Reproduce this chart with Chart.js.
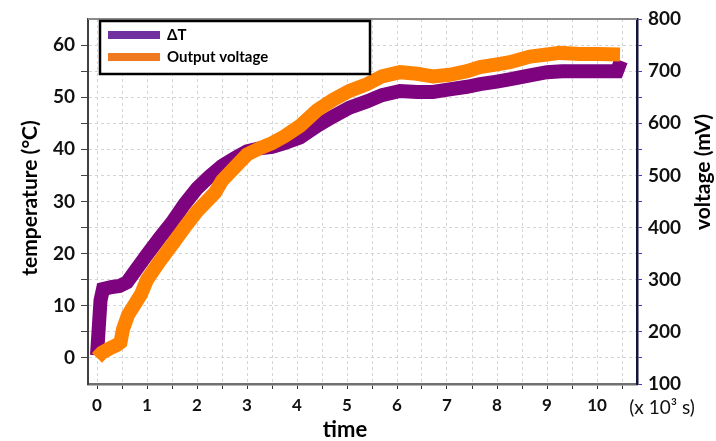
<!DOCTYPE html>
<html>
<head>
<meta charset="utf-8">
<script src="https://cdn.jsdelivr.net/npm/chart.js@4.4.0/dist/chart.umd.min.js"></script>
<style>
	html, body { margin: 0; padding: 0; background: #fff; }
</style>
</head>
<body>
<canvas id="myChart" width="716" height="441"></canvas>
<script>
// time axis is in 10^3 s
var dtTime = [0, 0.03, 0.07, 0.12, 0.3, 0.45, 0.6, 0.75, 0.9, 1.0, 1.25, 1.5, 1.75, 2.0, 2.25, 2.5, 2.75, 3.0, 3.25, 3.5, 3.75,
	4.06, 4.4, 4.72, 5.05, 5.4, 5.7, 6.06, 6.4, 6.72, 7.05, 7.4, 7.66, 8.0, 8.3, 8.66, 9.0, 9.3, 9.66, 10.0, 10.4, 10.48];
// temperature difference, °C
var dtValues = [0.5, 5, 11, 13.2, 13.6, 13.8, 14.5, 16.5, 18.5, 19.8, 23, 26, 29.5, 32.5, 34.8, 36.8, 38.3, 39.6, 40.2, 40.5, 41.2,
	42.3, 44.5, 46.3, 48, 49.2, 50.4, 51.2, 51, 51, 51.5, 52, 52.5, 53, 53.5, 54.2, 54.8, 55, 55, 55, 55, 57];

var voltTime = [0, 0.1, 0.25, 0.4, 0.47, 0.52, 0.62, 0.75, 0.88, 1.0, 1.25, 1.5, 1.75, 2.0, 2.36, 2.5, 2.75, 3.0, 3.25, 3.5, 3.75,
	4.06, 4.4, 4.72, 5.05, 5.4, 5.7, 6.06, 6.4, 6.72, 7.05, 7.4, 7.66, 8.0, 8.26, 8.66, 9.0, 9.26, 9.66, 10.0, 10.46];
// output voltage, mV
var voltValues = [150, 160, 168, 175, 180, 205, 232, 252, 272, 300, 335, 367, 400, 431, 467, 490, 515, 540, 552, 562, 575,
	595, 625, 645, 662, 675, 690, 698, 695, 690, 693, 700, 708, 713, 717, 728, 732, 735, 733, 733, 732];

var xTicks = [0, 0.5, 1, 1.5, 2, 2.5, 3, 3.5, 4, 4.5, 5, 5.5, 6, 6.5, 7, 7.5, 8, 8.5, 9, 9.5, 10, 10.5];
var tempTicks = [0, 5, 10, 15, 20, 25, 30, 35, 40, 45, 50, 55, 60];
var voltTicks = [100, 150, 200, 250, 300, 350, 400, 450, 500, 550, 600, 650, 700, 750, 800];

var seriesNames = ['ΔT', 'Output voltage'];
var lineColors = ['#7d037f', '#ff8200'];
var legendColors = ['#7030a0', '#f07a22'];

function toPoints(xs, ys) {
	var pts = [];
	for (let i = 0; i < xs.length; i++) {
		pts.push({x: xs[i], y: ys[i]});
	}
	return pts;
}

function setTicks(list) {
	return function(scale) {
		scale.ticks = list.map(v => ({value: v}));
	};
}

// legend box, frame top line and axis titles
var decor = {
	id: 'decor',
	afterDraw: function(chart) {
		var ctx = chart.ctx;
		var a = chart.chartArea;
		ctx.save();

		ctx.strokeStyle = '#8a8a8a';
		ctx.lineWidth = 2;
		ctx.beginPath();
		ctx.moveTo(a.left, a.top);
		ctx.lineTo(a.right, a.top);
		ctx.stroke();

		var bx = a.left + 12, by = a.top + 2, bw = 270, bh = 53;
		ctx.fillStyle = '#fff';
		ctx.fillRect(bx, by, bw, bh);
		ctx.strokeStyle = '#000';
		ctx.lineWidth = 2.5;
		ctx.strokeRect(bx, by, bw, bh);
		ctx.font = 'bold 15px Lato';
		ctx.textAlign = 'left';
		ctx.textBaseline = 'middle';
		chart.data.datasets.forEach(function(ds, i) {
			var y = by + 14 + i * 22;
			ctx.strokeStyle = legendColors[i];
			ctx.lineWidth = 8;
			ctx.beginPath();
			ctx.moveTo(bx + 8, y);
			ctx.lineTo(bx + 60, y);
			ctx.stroke();
			ctx.fillStyle = '#000';
			ctx.fillText(ds.label, bx + 67, y);
		});

		ctx.fillStyle = '#000';
		ctx.textAlign = 'center';
		ctx.font = 'bold 21px Lato';
		ctx.save();
		ctx.translate(30, 198);
		ctx.rotate(-Math.PI / 2);
		ctx.fillText('temperature (°C)', 0, 0);
		ctx.restore();
		ctx.save();
		ctx.translate(703, 172);
		ctx.rotate(-Math.PI / 2);
		ctx.fillText('voltage (mV)', 0, 0);
		ctx.restore();
		ctx.font = 'bold 22px Lato';
		ctx.fillText('time', 345, 430);

		ctx.font = '19px Lato';
		ctx.fillStyle = '#111';
		ctx.fillText('(x 10³ s)', 662, 408);
		ctx.restore();
	}
};

var ctx = document.getElementById('myChart');
var myChart = new Chart(ctx, {
	type: 'line',
	data: {
		datasets: [{
			label: seriesNames[0],
			data: toPoints(dtTime, dtValues),
			yAxisID: 'yTemp',
			borderColor: lineColors[0],
			borderWidth: 14,
			pointRadius: 0,
			order: 1
		}, {
			label: seriesNames[1],
			data: toPoints(voltTime, voltValues),
			yAxisID: 'yVolt',
			borderColor: lineColors[1],
			borderWidth: 14,
			pointRadius: 0,
			order: 0
		}]
	},
	options: {
		responsive: false,
		animation: false,
		events: [],
		layout: { padding: { top: 19, left: 0, right: 0, bottom: 0 } },
		plugins: {
			legend: { display: false },
			tooltip: { enabled: false }
		},
		scales: {
			x: {
				type: 'linear',
				min: -0.18,
				max: 10.8,
				afterBuildTicks: setTicks(xTicks),
				afterFit: function(s) { s.height = 57; },
				grid: { color: '#d4d4d4', lineWidth: 1, tickColor: '#333', tickLength: 5 },
				border: { color: '#707070', width: 2.5, dash: [3, 3] },
				ticks: {
					color: '#111',
					font: { family: 'Lato', size: 17, weight: 'bold' },
					padding: 6,
					maxRotation: 0,
					autoSkip: false,
					callback: function(v) { return Number.isInteger(v) ? String(v) : ''; }
				}
			},
			yTemp: {
				type: 'linear',
				position: 'left',
				min: -5,
				max: 65,
				afterBuildTicks: setTicks(tempTicks),
				afterFit: function(s) { s.width = 88; },
				grid: { color: '#d4d4d4', lineWidth: 1, tickColor: '#444', tickLength: 7 },
				border: { color: '#404040', width: 2, dash: [3, 3] },
				ticks: {
					color: '#111',
					font: { family: 'Lato', size: 19, weight: 'bold' },
					padding: 6,
					autoSkip: false,
					callback: function(v) { return v % 10 === 0 ? String(v) : ''; }
				}
			},
			yVolt: {
				type: 'linear',
				position: 'right',
				min: 100,
				max: 800,
				afterBuildTicks: setTicks(voltTicks),
				afterFit: function(s) { s.width = 79; },
				grid: { drawOnChartArea: false, tickColor: '#3a3ad0', tickLength: 5 },
				border: { color: '#14143c', width: 2.5 },
				ticks: {
					color: '#111',
					font: { family: 'Lato', size: 19, weight: 'bold' },
					padding: 6,
					autoSkip: false,
					callback: function(v) { return v % 100 === 0 ? String(v) : ''; }
				}
			}
		}
	},
	plugins: [decor]
});
</script>
</body>
</html>
